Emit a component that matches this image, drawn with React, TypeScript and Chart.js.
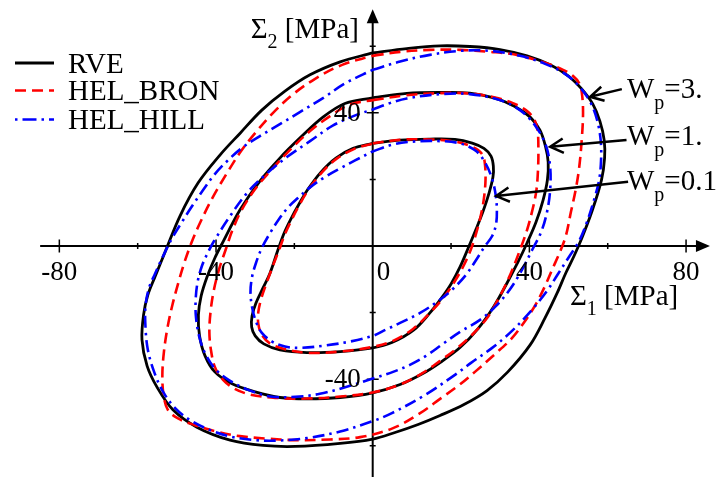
import React, { useEffect, useRef } from "react";
import { Chart, registerables } from "chart.js";

Chart.register(...registerables);

type Pt = [number, number];

// ---- Yield surfaces, Sigma1 / Sigma2 in MPa ----
// RVE (solid black)
const RVE_W01: Pt[] = [[0,30.8],[7.0,31.8],[14.6,32.1],[21.0,32.0],[25.4,30.9],[28.4,29.3],[30.2,27.0],[30.8,24.0],[30.7,20.7],[29.7,15.9],[28.2,10.5],[26.4,5.1],[24.6,0],[22.3,-6.3],[20.0,-11.4],[17.4,-15.9],[14.6,-20.1],[10.5,-25.2],[4.9,-29.0],[0,-30.6],[-8.3,-31.7],[-16.8,-32.0],[-23.7,-31.2],[-27.8,-29.4],[-30.0,-27.0],[-30.9,-24.3],[-30.8,-21.0],[-29.8,-17.1],[-28.0,-12.6],[-26.2,-8.1],[-24.2,-1.2],[-22.6,3.9],[-20.9,8.1],[-18.8,12.6],[-16.5,17.1],[-13.2,22.2],[-9.4,26.4],[-5.0,29.3],[0,30.8]];
const RVE_W1: Pt[] = [[0,44.5],[8.7,45.8],[17.2,46.1],[24.8,45.9],[31.2,44.4],[36.3,41.9],[40.2,38.7],[42.7,34.8],[44.1,30.0],[44.8,25.2],[44.6,19.8],[43.5,13.8],[41.7,7.2],[39.4,0.9],[37.1,-4.8],[34.3,-11.1],[31.0,-18.0],[26.9,-24.8],[22.3,-30.5],[17.2,-35.0],[12.8,-38.3],[7.0,-41.6],[0,-44.1],[-8.3,-45.5],[-16.8,-45.9],[-23.7,-45.5],[-30.0,-43.8],[-35.9,-41.4],[-40.3,-37.8],[-42.8,-33.0],[-44.2,-27.0],[-44.5,-20.7],[-43.8,-15.0],[-42.3,-9.3],[-40.3,-3.6],[-38.5,0.6],[-33.9,10.8],[-28.8,19.5],[-23.7,26.4],[-18.6,32.4],[-12.7,38.7],[-7.1,42.8],[0,44.5]];
const RVE_W3: Pt[] = [[0,58.0],[8.7,59.3],[17.2,60.1],[24.8,59.9],[32.5,59.0],[39.4,57.1],[45.3,54.4],[49.9,51.1],[53.4,47.1],[56.2,42.6],[58.0,37.5],[59.1,31.8],[59.2,26.4],[58.4,19.8],[56.0,10.5],[53.4,2.4],[51.4,-3.0],[49.3,-8.1],[47.1,-14.1],[44.0,-21.6],[40.2,-29.7],[34.5,-37.8],[29.2,-43.4],[23.3,-47.6],[17.2,-50.9],[11.6,-53.6],[5.7,-56.0],[0,-58.0],[-8.3,-59.3],[-19.8,-60.2],[-28.0,-59.9],[-36.4,-58.3],[-44.9,-54.4],[-51.0,-49.2],[-55.1,-42.3],[-57.6,-36.0],[-58.9,-28.2],[-58.5,-20.7],[-57.4,-14.7],[-55.6,-9.3],[-53.0,-1.8],[-49.2,9.0],[-44.6,18.9],[-39.0,27.3],[-33.9,33.8],[-28.3,40.8],[-22.4,46.5],[-16.0,51.4],[-8.3,55.3],[0,58.0]];

// HEL_BRON (red dashed)
const BRON_W01: Pt[] = [[0,30.8],[7.0,31.9],[14.6,32.0],[20.2,31.5],[24.3,30.3],[26.9,28.8],[28.2,27.0],[28.7,24.0],[28.8,19.8],[28.5,15.3],[27.9,10.8],[26.8,5.4],[25.2,-0.6],[23.3,-5.7],[21.0,-10.5],[18.2,-15.3],[14.6,-20.1],[10.3,-24.9],[5.2,-28.5],[0,-30.3],[-8.3,-31.7],[-16.8,-32.1],[-22.6,-30.9],[-26.2,-29.3],[-28.3,-26.7],[-29.2,-23.4],[-29.2,-19.8],[-28.4,-15.6],[-27.0,-10.8],[-25.5,-6.0],[-23.9,-1.2],[-22.4,3.6],[-20.6,8.1],[-18.6,12.6],[-16.3,17.1],[-12.9,22.2],[-9.1,26.3],[-4.8,29.1],[0,30.8]];
const BRON_W1: Pt[] = [[0,43.8],[8.2,45.2],[17.2,45.9],[24.8,45.8],[31.2,44.6],[35.8,42.9],[39.1,40.8],[41.2,38.1],[42.1,34.5],[42.3,28.8],[42.2,22.8],[41.8,16.8],[40.9,11.4],[39.4,4.8],[37.6,-1.2],[35.3,-8.1],[32.5,-15.0],[29.2,-21.6],[25.1,-27.0],[21.0,-31.2],[17.2,-34.5],[12.8,-38.1],[7.0,-41.6],[0,-44.0],[-8.3,-45.2],[-16.8,-45.8],[-24.9,-45.6],[-31.3,-44.6],[-35.2,-42.9],[-38.2,-40.2],[-40.3,-36.3],[-41.3,-31.2],[-41.7,-25.8],[-41.4,-19.8],[-40.6,-13.5],[-39.2,-6.9],[-37.3,-0.3],[-35.9,4.5],[-33.6,10.5],[-30.0,17.1],[-25.7,23.1],[-20.9,29.1],[-16.0,34.5],[-10.9,39.0],[-5.8,42.5],[0,43.8]];
const BRON_W3: Pt[] = [[0,57.1],[7.0,58.3],[14.6,58.9],[22.3,58.9],[29.9,58.3],[36.6,57.4],[44.0,55.0],[48.6,52.9],[51.1,51.1],[52.7,48.9],[53.4,45.9],[53.7,40.2],[53.4,32.4],[52.7,23.4],[51.8,16.8],[50.6,10.2],[49.3,3.0],[47.8,-1.8],[46.0,-6.6],[44.0,-12.0],[41.7,-17.4],[38.9,-22.5],[35.6,-27.6],[31.0,-32.7],[26.1,-37.8],[21.8,-42.0],[17.2,-45.9],[12.1,-50.2],[5.2,-54.7],[-3.2,-57.4],[-10.9,-58.1],[-19.8,-58.3],[-27.5,-57.8],[-33.9,-57.1],[-40.0,-55.7],[-45.4,-53.8],[-49.7,-51.8],[-52.3,-49.2],[-53.4,-44.7],[-53.7,-38.7],[-53.3,-31.8],[-52.4,-24.6],[-51.2,-18.0],[-49.7,-11.4],[-48.2,-5.4],[-46.3,0.9],[-44.1,6.9],[-40.8,14.7],[-37.2,21.9],[-33.6,28.5],[-29.8,34.2],[-25.5,39.9],[-20.6,45.3],[-14.7,50.2],[-7.8,54.4],[0,57.1]];

// HEL_HILL (blue dash-dot)
const HILL_W01: Pt[] = [[0,28.4],[5.2,30.5],[10.8,31.4],[17.2,31.5],[22.3,30.8],[26.4,28.5],[28.9,24.6],[30.5,20.1],[31.4,15.3],[31.7,10.8],[31.5,6.6],[30.5,3.0],[28.5,-0.3],[26.4,-4.2],[23.8,-8.7],[20.2,-13.2],[16.4,-16.8],[12.1,-20.1],[7.0,-23.1],[3.4,-25.1],[0,-27.0],[-5.8,-28.7],[-12.2,-29.9],[-18.6,-30.6],[-22.4,-30.2],[-25.7,-28.7],[-28.3,-26.1],[-29.8,-22.7],[-30.8,-18.3],[-31.2,-13.8],[-30.8,-9.3],[-29.8,-5.1],[-28.3,-0.6],[-26.2,3.9],[-23.9,8.1],[-21.6,11.6],[-19.1,14.4],[-16.0,17.6],[-12.2,20.7],[-8.3,23.3],[-4.5,25.7],[0,28.4]];
const HILL_W1: Pt[] = [[0,41.0],[4.4,42.9],[8.7,44.3],[17.2,45.6],[24.8,45.6],[32.5,43.8],[37.6,40.8],[41.4,36.3],[44.2,30.3],[45.3,23.7],[45.3,16.8],[44.5,10.2],[43.0,4.2],[40.7,-1.2],[38.1,-7.2],[35.1,-12.9],[31.5,-18.0],[27.4,-22.2],[22.3,-25.8],[17.9,-29.4],[13.6,-33.0],[9.5,-35.7],[5.2,-37.8],[0,-39.8],[-5.8,-42.0],[-13.5,-44.4],[-19.8,-45.3],[-26.2,-45.2],[-31.8,-43.2],[-36.4,-40.5],[-40.0,-37.2],[-42.6,-32.7],[-44.2,-27.6],[-45.1,-21.6],[-45.2,-16.2],[-44.7,-10.8],[-43.6,-6.0],[-42.0,-1.8],[-40.5,1.5],[-36.4,9.0],[-32.1,15.9],[-27.2,21.6],[-21.9,26.7],[-16.0,31.5],[-10.1,36.2],[-4.3,39.3],[0,41.0]];
const HILL_W3: Pt[] = [[0,52.9],[7.0,55.4],[14.6,57.4],[22.3,58.6],[29.9,58.6],[37.6,57.1],[44.0,54.7],[49.1,51.7],[52.9,47.7],[55.7,42.9],[57.3,37.8],[58.2,31.8],[58.3,25.8],[57.8,19.8],[56.5,13.8],[54.7,7.2],[52.7,1.5],[50.1,-3.3],[47.3,-8.4],[44.5,-13.5],[40.2,-19.8],[35.3,-25.8],[30.5,-30.6],[25.1,-35.1],[21.0,-38.7],[13.4,-44.7],[4.9,-50.2],[0,-52.6],[-8.3,-55.7],[-16.8,-57.7],[-23.7,-58.4],[-30.0,-58.3],[-36.4,-57.2],[-41.5,-55.3],[-46.6,-52.3],[-50.5,-48.6],[-53.5,-43.8],[-55.8,-37.8],[-57.4,-31.2],[-58.0,-24.6],[-58.0,-18.0],[-57.1,-12.6],[-55.6,-8.4],[-53.5,-3.0],[-51.2,2.4],[-48.7,7.2],[-46.1,12.0],[-43.3,16.8],[-40.3,21.6],[-36.9,25.8],[-33.1,29.7],[-28.8,33.0],[-23.7,36.6],[-18.6,40.2],[-12.7,44.4],[-7.1,48.8],[0,52.9]];

// ---- Axes ----
const X_MIN = -95.15, X_MAX = 88.92;
const Y_MIN = -69.37, Y_MAX = 73.87;
const X_AXIS_FROM = -84.9, X_AXIS_TO = 86.1;
const Y_AXIS_FROM = -69.4, Y_AXIS_TO = 71.1;
const X_MAJOR = [-80, -40, 40, 80];
const X_MINOR = [-60, -20, 20, 60];
const Y_MAJOR = [-40, 40];
const Y_MINOR = [-60, -20, 20, 60];
const X_LABELS = [-80, -40, 0, 40, 80];
const Y_LABELS = [-40, 40];

// ---- Annotations (W_p levels) ----
const LEVEL_TEXT = ["=3.", "=1.", "=0.1"];
const LEVEL_TEXT_POS: Pt[] = [[64.9, 44.3], [64.9, 30.3], [64.9, 16.8]];
const LEVEL_ARROW_FROM: Pt[] = [[63.6, 47.1], [64.8, 31.8], [65.2, 19.3]];
const LEVEL_ARROW_TO: Pt[] = [[55.5, 44.8], [45.3, 29.8], [31.5, 15.0]];

const FONT = '"Liberation Serif", "Times New Roman", Times, serif';

const MODELS = [
  { name: "RVE", color: "#000000", dash: [] as number[], width: 2.8, order: 3, curves: [RVE_W01, RVE_W1, RVE_W3] },
  { name: "HEL_BRON", color: "#ff0000", dash: [11, 6], width: 2.6, order: 2, curves: [BRON_W01, BRON_W1, BRON_W3] },
  { name: "HEL_HILL", color: "#0000ff", dash: [12, 5, 2.5, 5], width: 2.6, order: 1, curves: [HILL_W01, HILL_W1, HILL_W3] },
];

function drawSubText(ctx: CanvasRenderingContext2D, x: number, y: number, main: string, sub: string, rest: string, size: number, subSize: number, drop: number) {
  ctx.font = `${size}px ${FONT}`;
  ctx.fillText(main, x, y);
  let cx = x + ctx.measureText(main).width;
  ctx.font = `${subSize}px ${FONT}`;
  ctx.fillText(sub, cx, y + drop);
  cx += ctx.measureText(sub).width;
  ctx.font = `${size}px ${FONT}`;
  ctx.fillText(rest, cx, y);
}

const overlay = {
  id: "overlay",
  beforeDatasetsDraw(chart: any) {
    const ctx: CanvasRenderingContext2D = chart.ctx;
    const xs = chart.scales.x, ys = chart.scales.y;
    const px = (v: number) => xs.getPixelForValue(v);
    const py = (v: number) => ys.getPixelForValue(v);
    const x0 = px(0), y0 = py(0);
    ctx.save();
    ctx.strokeStyle = "#000";
    ctx.fillStyle = "#000";
    ctx.lineWidth = 2;
    const xt = px(X_AXIS_TO);
    ctx.beginPath();
    ctx.moveTo(px(X_AXIS_FROM), y0);
    ctx.lineTo(xt - 8, y0);
    ctx.stroke();
    ctx.beginPath();
    ctx.moveTo(xt, y0);
    ctx.lineTo(xt - 14, y0 - 6);
    ctx.lineTo(xt - 14, y0 + 6);
    ctx.closePath();
    ctx.fill();
    const yt = py(Y_AXIS_TO);
    ctx.beginPath();
    ctx.moveTo(x0, py(Y_AXIS_FROM));
    ctx.lineTo(x0, yt + 8);
    ctx.stroke();
    ctx.beginPath();
    ctx.moveTo(x0, yt);
    ctx.lineTo(x0 - 6, yt + 14);
    ctx.lineTo(x0 + 6, yt + 14);
    ctx.closePath();
    ctx.fill();
    ctx.lineWidth = 1.5;
    ctx.beginPath();
    X_MAJOR.forEach((v) => { ctx.moveTo(px(v), y0 - 6.5); ctx.lineTo(px(v), y0 + 6.5); });
    X_MINOR.forEach((v) => { ctx.moveTo(px(v), y0 - 3); ctx.lineTo(px(v), y0 + 3); });
    Y_MAJOR.forEach((v) => { ctx.moveTo(x0 - 6, py(v)); ctx.lineTo(x0 + 6, py(v)); });
    Y_MINOR.forEach((v) => { ctx.moveTo(x0 - 3, py(v)); ctx.lineTo(x0 + 3, py(v)); });
    ctx.stroke();
    ctx.restore();
  },
  afterDatasetsDraw(chart: any) {
    const ctx: CanvasRenderingContext2D = chart.ctx;
    const xs = chart.scales.x, ys = chart.scales.y;
    const px = (v: number) => xs.getPixelForValue(v);
    const py = (v: number) => ys.getPixelForValue(v);
    const x0 = px(0), y0 = py(0);
    ctx.save();
    ctx.fillStyle = "#000";
    ctx.strokeStyle = "#000";
    ctx.font = `27px ${FONT}`;
    ctx.textBaseline = "alphabetic";
    X_LABELS.forEach((v) => {
      const s = String(v);
      if (v === 0) {
        ctx.textAlign = "left";
        ctx.fillText(s, x0 + 4, y0 + 34);
      } else {
        ctx.textAlign = "center";
        ctx.fillText(s, px(v), y0 + 34);
      }
    });
    ctx.textAlign = "right";
    ctx.textBaseline = "middle";
    Y_LABELS.forEach((v) => {
      ctx.fillText(String(v), x0 - 12, py(v) + 1);
    });
    ctx.textAlign = "left";
    ctx.textBaseline = "alphabetic";
    drawSubText(ctx, x0 - 122, py(Y_AXIS_TO) + 29, "\u03A3", "2", " [MPa]", 29, 20, 10);
    drawSubText(ctx, px(X_AXIS_TO) - 140, y0 + 59, "\u03A3", "1", " [MPa]", 29, 20, 10);
    const legendLineY = [63, 90.5, 119.5];
    const legendTextY = [72.7, 100.3, 129];
    MODELS.forEach((m, i) => {
      ctx.save();
      ctx.strokeStyle = m.color;
      ctx.lineWidth = m.width;
      ctx.setLineDash(m.dash.length === 4 ? [2.5, 5, 14, 5] : m.dash);
      ctx.beginPath();
      ctx.moveTo(15, legendLineY[i]);
      ctx.lineTo(54, legendLineY[i]);
      ctx.stroke();
      ctx.restore();
      ctx.font = `29px ${FONT}`;
      ctx.fillText(m.name, 68, legendTextY[i]);
    });
    ctx.lineWidth = 2.5;
    LEVEL_TEXT.forEach((t, i) => {
      const [tx, ty] = LEVEL_TEXT_POS[i];
      drawSubText(ctx, px(tx), py(ty), "W", "p", t, 29, 20, 11);
      const ax = px(LEVEL_ARROW_FROM[i][0]), ay = py(LEVEL_ARROW_FROM[i][1]);
      const bx = px(LEVEL_ARROW_TO[i][0]), by = py(LEVEL_ARROW_TO[i][1]);
      const ang = Math.atan2(ay - by, ax - bx);
      const L = 15, spread = 0.5;
      ctx.beginPath();
      ctx.moveTo(ax, ay);
      ctx.lineTo(bx, by);
      ctx.moveTo(bx + L * Math.cos(ang + spread), by + L * Math.sin(ang + spread));
      ctx.lineTo(bx, by);
      ctx.lineTo(bx + L * Math.cos(ang - spread), by + L * Math.sin(ang - spread));
      ctx.stroke();
    });
    ctx.restore();
  },
};

export default function App() {
  const ref = useRef<HTMLCanvasElement | null>(null);
  useEffect(() => {
    if (!ref.current) return;
    const datasets: any[] = [];
    MODELS.forEach((m) => {
      m.curves.forEach((c, k) => {
        datasets.push({
          label: `${m.name} ${k}`,
          data: c.map(([x, y]) => ({ x, y })),
          showLine: true,
          borderColor: m.color,
          backgroundColor: m.color,
          borderWidth: m.width,
          borderDash: m.dash,
          pointRadius: 0,
          tension: 0.35,
          fill: false,
          order: m.order,
        });
      });
    });
    const chart = new Chart(ref.current, {
      type: "scatter",
      data: { datasets },
      options: {
        animation: false,
        responsive: false,
        events: [],
        layout: { padding: 0 },
        plugins: { legend: { display: false }, tooltip: { enabled: false } },
        scales: {
          x: { type: "linear", min: X_MIN, max: X_MAX, display: false },
          y: { type: "linear", min: Y_MIN, max: Y_MAX, display: false },
        },
      },
      plugins: [overlay],
    } as any);
    return () => chart.destroy();
  }, []);
  return (
    <div style={{ position: "absolute", left: 0, top: 0, width: 721, height: 477, background: "#fff" }}>
      <canvas ref={ref} width={721} height={477} style={{ display: "block" }} />
    </div>
  );
}
